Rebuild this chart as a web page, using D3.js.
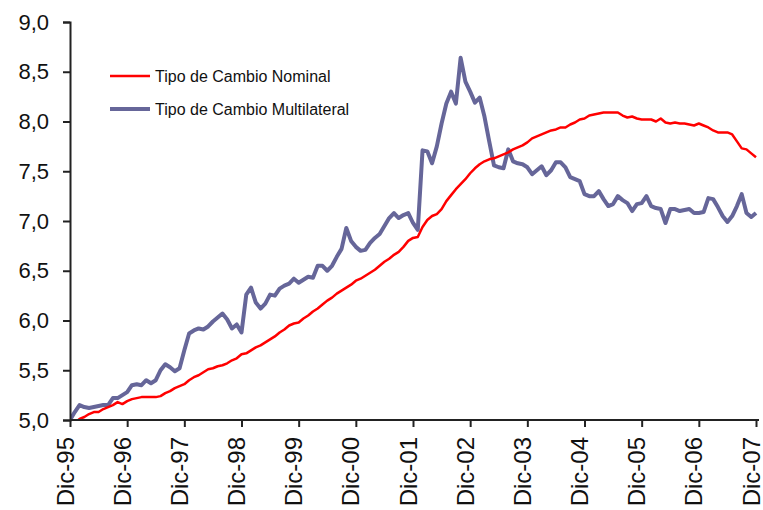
<!DOCTYPE html>
<html>
<head>
<meta charset="utf-8">
<script src="https://cdn.jsdelivr.net/npm/d3@7"></script>
<style>
  body { margin: 0; background: #fff; }
  svg text { font-family: "Liberation Sans", Arial, sans-serif; fill: #111; }
</style>
</head>
<body>
<div id="chart"></div>
<script>
// monthly series, Dic-95 (index 0) .. Dic-07 (index 144)
var nominal = [null, 4.97,5.01,5.03,5.06,5.08,5.08,5.11,5.13,5.15,5.18,5.16,5.19,
  5.21,5.22,5.23,5.23,5.23,5.23,5.24,5.27,5.29,5.32,5.34,5.36,
  5.40,5.43,5.45,5.48,5.51,5.52,5.54,5.55,5.57,5.60,5.62,5.66,
  5.67,5.70,5.73,5.75,5.78,5.81,5.84,5.88,5.91,5.95,5.97,5.98,
  6.02,6.05,6.09,6.12,6.16,6.20,6.23,6.27,6.30,6.33,6.36,6.40,
  6.42,6.45,6.48,6.51,6.55,6.59,6.62,6.66,6.69,6.74,6.80,6.83,
  6.84,6.94,7.01,7.05,7.07,7.12,7.20,7.26,7.32,7.37,7.42,7.48,
  7.53,7.57,7.60,7.62,7.63,7.65,7.67,7.69,7.72,7.74,7.76,7.79,
  7.83,7.85,7.87,7.89,7.91,7.92,7.94,7.94,7.97,7.99,8.02,8.03,
  8.06,8.07,8.08,8.09,8.09,8.09,8.09,8.06,8.04,8.05,8.03,8.02,
  8.02,8.02,8.00,8.03,7.99,7.98,7.99,7.98,7.98,7.97,7.96,7.98,
  7.96,7.94,7.91,7.89,7.89,7.89,7.87,7.80,7.73,7.72,7.68,7.64];

var multilateral = [5.00,5.08,5.15,5.13,5.12,5.13,5.14,5.15,5.15,5.22,5.22,5.25,5.28,
  5.35,5.36,5.35,5.40,5.37,5.40,5.50,5.56,5.53,5.49,5.52,5.70,
  5.87,5.90,5.92,5.91,5.94,5.99,6.03,6.07,6.01,5.92,5.96,5.88,
  6.26,6.33,6.18,6.12,6.17,6.26,6.25,6.32,6.35,6.37,6.42,6.38,
  6.41,6.44,6.43,6.55,6.55,6.50,6.55,6.64,6.72,6.93,6.80,6.74,
  6.70,6.71,6.78,6.83,6.87,6.95,7.03,7.08,7.03,7.06,7.08,6.98,
  6.91,7.71,7.70,7.58,7.75,7.98,8.18,8.30,8.18,8.64,8.40,8.30,
  8.19,8.24,8.05,7.80,7.56,7.54,7.53,7.72,7.60,7.58,7.57,7.54,
  7.47,7.51,7.55,7.46,7.51,7.59,7.59,7.54,7.44,7.42,7.40,7.27,
  7.25,7.25,7.30,7.22,7.15,7.17,7.25,7.21,7.18,7.10,7.17,7.18,
  7.25,7.15,7.13,7.12,6.98,7.12,7.12,7.10,7.11,7.12,7.08,7.08,
  7.09,7.23,7.22,7.14,7.05,6.99,7.05,7.15,7.27,7.08,7.04,7.08];

var yearLabels = ["Dic-95","Dic-96","Dic-97","Dic-98","Dic-99","Dic-00","Dic-01",
  "Dic-02","Dic-03","Dic-04","Dic-05","Dic-06","Dic-07"];
var yTicks = [5.0, 5.5, 6.0, 6.5, 7.0, 7.5, 8.0, 8.5, 9.0];
var seriesNames = ["Tipo de Cambio Nominal", "Tipo de Cambio Multilateral"];
var seriesColors = ["#ff0000", "#666699"];

var width = 763, height = 510;
var margin = { left: 70, right: 756, top: 22, bottom: 420 };

var svg = d3.select("#chart").append("svg")
    .attr("width", width)
    .attr("height", height);

var x = d3.scaleLinear().domain([0, 144]).range([margin.left, margin.right]);
var y = d3.scaleLinear().domain([5, 9]).range([margin.bottom, margin.top]);

svg.append("clipPath").attr("id", "plot-clip")
  .append("rect")
    .attr("x", margin.left).attr("y", margin.top - 5)
    .attr("width", margin.right - margin.left + 5)
    .attr("height", margin.bottom - margin.top + 5);

var line = d3.line()
    .defined(function(d) { return d != null; })
    .x(function(d, i) { return x(i); })
    .y(function(d) { return y(d); });

var plot = svg.append("g").attr("clip-path", "url(#plot-clip)");

plot.append("path")
    .datum(multilateral)
    .attr("fill", "none")
    .attr("stroke", seriesColors[1])
    .attr("stroke-width", 4)
    .attr("stroke-linejoin", "round")
    .attr("d", line);

plot.append("path")
    .datum(nominal)
    .attr("fill", "none")
    .attr("stroke", seriesColors[0])
    .attr("stroke-width", 2.5)
    .attr("stroke-linejoin", "round")
    .attr("d", line);

// y axis
var yAxis = d3.axisLeft(y)
    .tickValues(yTicks)
    .tickSize(7)
    .tickPadding(14)
    .tickFormat(function(d) { return d.toFixed(1).replace(".", ","); });

var gy = svg.append("g")
    .attr("transform", "translate(" + margin.left + ",0)")
    .call(yAxis);
gy.select(".domain").attr("stroke", "#222").attr("stroke-width", 2);
gy.selectAll(".tick line").attr("stroke", "#222").attr("stroke-width", 2);
gy.selectAll(".tick text")
    .style("font-size", "22px")
    .attr("fill", "#111");

// x axis
var xAxis = d3.axisBottom(x)
    .tickValues(d3.range(0, 145, 12))
    .tickSize(7)
    .tickFormat(function(d) { return yearLabels[d / 12]; });

var gx = svg.append("g")
    .attr("transform", "translate(0," + margin.bottom + ")")
    .call(xAxis);
gx.select(".domain").attr("stroke", "#222").attr("stroke-width", 2)
    .attr("d", "M" + margin.left + ",0H" + (margin.right + 3));
gx.selectAll(".tick line").attr("stroke", "#222").attr("stroke-width", 2);
gx.selectAll(".tick text")
    .style("font-size", "24px")
    .attr("text-anchor", "end")
    .attr("dy", null)
    .attr("y", null)
    .attr("transform", "translate(3,17) rotate(-90)");

// legend
var legend = svg.append("g");
seriesNames.forEach(function(name, i) {
  var ly = 76 + i * 33;
  legend.append("line")
      .attr("x1", 110).attr("x2", 150)
      .attr("y1", ly).attr("y2", ly)
      .attr("stroke", seriesColors[i])
      .attr("stroke-width", i == 0 ? 2.5 : 4);
  legend.append("text")
      .attr("x", 155).attr("y", ly)
      .attr("dy", "0.35em")
      .style("font-size", "16px")
      .text(name);
});
</script>
</body>
</html>
